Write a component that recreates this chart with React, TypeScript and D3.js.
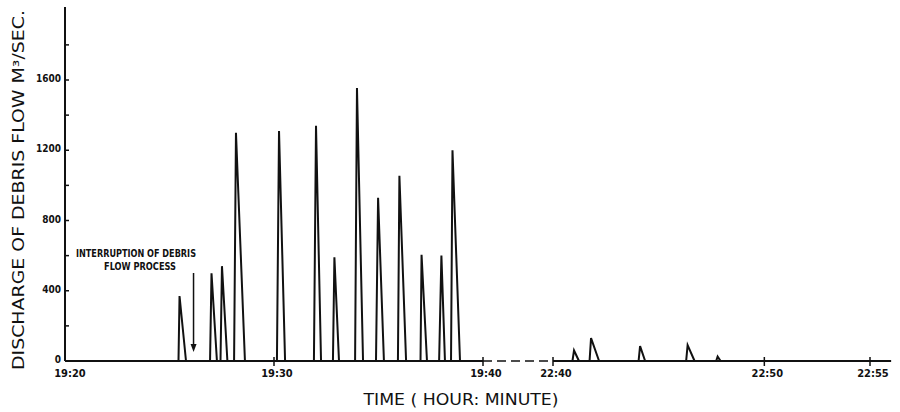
import React from "react";
import * as d3 from "d3";

// Minutes after 19:20 (first burst)
const burst1Start = [5.43, 6.94, 7.44, 8.09, 10.14, 11.91, 12.82, 13.88, 14.88, 15.93, 17.01, 17.9, 18.47];
const burst1Peak = [5.48, 7.01, 7.51, 8.18, 10.24, 12.01, 12.89, 13.97, 14.98, 16.0, 17.06, 18.01, 18.54];
const burst1End = [5.79, 7.27, 7.77, 8.61, 10.53, 12.25, 13.11, 14.26, 15.26, 16.32, 17.32, 18.18, 18.9];
const burst1Value = [370, 500, 540, 1300, 1310, 1340, 590, 1555, 930, 1055, 605, 600, 1200];

// Minutes after 22:40 (second burst)
const burst2Start = [0.92, 1.73, 4.05, 6.3, 7.72];
const burst2Peak = [0.995, 1.8, 4.12, 6.37, 7.79];
const burst2End = [1.23, 2.18, 4.36, 6.7, 7.93];
const burst2Value = [60, 130, 85, 90, 25];

// Axis: time in minutes after 19:20 on a broken axis (22:40 = 200)
const xTickValues = [0, 10, 20, 200, 210, 215];
const xTickLabels = ["19:20", "19:30", "19:40", "22:40", "22:50", "22:55"];
const yTickValues = [200, 400, 600, 800, 1000, 1200, 1400, 1600, 1800];
const yLabelValues = [0, 400, 800, 1200, 1600];

const BREAK_OFFSET = 200;

export default function App() {
  const W = 900;
  const H = 412;
  const x = d3.scaleLinear().domain([0, 20, 200, 215]).range([65, 483, 553, 870]);
  const y = d3.scaleLinear().domain([0, 1600]).range([361, 80]);

  const peaks: { s: number; p: number; e: number; v: number }[] = [];
  burst1Value.forEach((v, i) => peaks.push({ s: burst1Start[i], p: burst1Peak[i], e: burst1End[i], v }));
  burst2Value.forEach((v, i) =>
    peaks.push({ s: burst2Start[i] + BREAK_OFFSET, p: burst2Peak[i] + BREAK_OFFSET, e: burst2End[i] + BREAK_OFFSET, v })
  );

  const line = d3
    .line<[number, number]>()
    .x((d) => x(d[0]))
    .y((d) => y(d[1]));

  const ink = "#111";
  const hand = "'DejaVu Sans Condensed', 'DejaVu Sans', sans-serif";

  const arrowX = x(6.15);

  return (
    <div style={{ position: "absolute", left: 0, top: 0 }}>
      <svg width={W} height={H} viewBox={`0 0 ${W} ${H}`} style={{ display: "block", background: "#fff" }}>
        {/* y axis */}
        <line x1={x(0)} x2={x(0)} y1={y(0)} y2={y(2015)} stroke={ink} strokeWidth={2} />
        {yTickValues.map((v) => (
          <line key={"yt" + v} x1={x(0)} x2={x(0) + 4} y1={y(v)} y2={y(v)} stroke={ink} strokeWidth={1.5} />
        ))}
        {yLabelValues.map((v) => (
          <text
            key={"yl" + v}
            x={x(0) - 4}
            y={y(v) - 1}
            textAnchor="end"
            dominantBaseline="middle"
            fontFamily={hand}
            fontWeight="bold"
            fontSize={10}
            fill={ink}
          >
            {v}
          </text>
        ))}

        {/* x axis: solid, broken (dashed), solid */}
        <path d={line([[0, 0], [20, 0]]) || ""} stroke={ink} strokeWidth={2} fill="none" />
        <path d={line([[20, 0], [200, 0]]) || ""} stroke={ink} strokeWidth={1.6} fill="none" strokeDasharray="9 5" />
        <path d={line([[200, 0], [216, 0]]) || ""} stroke={ink} strokeWidth={2} fill="none" />
        {xTickValues.map((v, i) => (
          <g key={"xt" + v}>
            {i > 0 && <line x1={x(v)} x2={x(v)} y1={y(0) - 4} y2={y(0) + 5} stroke={ink} strokeWidth={1.5} />}
            <text
              x={x(v) + (i === 0 ? 5 : 3)}
              y={y(0) + 16}
              textAnchor="middle"
              fontFamily={hand}
              fontWeight="bold"
              fontSize={11}
              fill={ink}
            >
              {xTickLabels[i]}
            </text>
          </g>
        ))}

        {/* peaks */}
        {peaks.map((d, i) => (
          <path
            key={"pk" + i}
            d={line([[d.s, 0], [d.p, d.v], [d.e, 0]]) || ""}
            stroke={ink}
            strokeWidth={2}
            fill="none"
            strokeLinejoin="miter"
          />
        ))}

        {/* annotation */}
        <text x={136} y={257} textAnchor="middle" fontFamily={hand} fontWeight="bold" fontSize={10.5} fill={ink} textLength={120} lengthAdjust="spacingAndGlyphs">
          INTERRUPTION OF DEBRIS
        </text>
        <text x={140} y={270} textAnchor="middle" fontFamily={hand} fontWeight="bold" fontSize={10.5} fill={ink} textLength={72} lengthAdjust="spacingAndGlyphs">
          FLOW PROCESS
        </text>
        <line x1={arrowX} x2={arrowX} y1={273} y2={346} stroke={ink} strokeWidth={1.5} />
        <path d={`M${arrowX - 3},${344} L${arrowX + 3},${344} L${arrowX},${352} Z`} fill={ink} />

        {/* axis titles */}
        <text
          x={461}
          y={405}
          textAnchor="middle"
          fontFamily={hand}
          fontSize={15}
          fill={ink}
          textLength={195}
          lengthAdjust="spacingAndGlyphs"
        >
          TIME ( HOUR: MINUTE)
        </text>
        <text
          transform={`translate(24, 190) rotate(-90)`}
          textAnchor="middle"
          fontFamily={hand}
          fontSize={15}
          fill={ink}
          textLength={360}
          lengthAdjust="spacingAndGlyphs"
        >
          DISCHARGE OF DEBRIS FLOW M³/SEC.
        </text>
      </svg>
    </div>
  );
}
